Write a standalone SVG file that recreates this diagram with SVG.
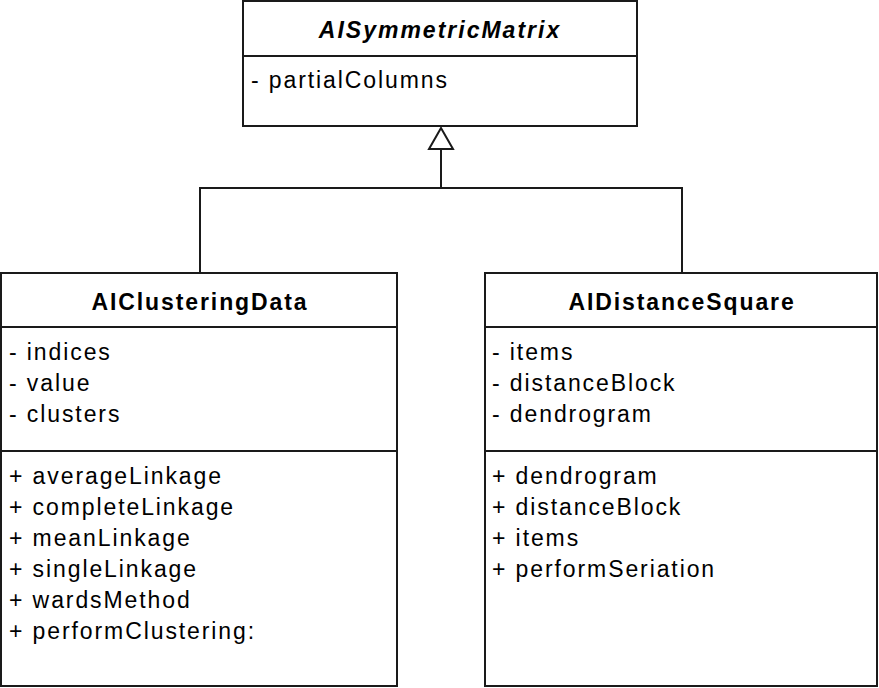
<svg xmlns="http://www.w3.org/2000/svg" width="879" height="688" viewBox="0 0 879 688">
<style>
.box{fill:#fff;stroke:#1a1a1a;stroke-width:2}
.ln{stroke:#1a1a1a;stroke-width:2;fill:none}
text{font-family:"Liberation Sans",Arial,sans-serif;font-size:23px;letter-spacing:1.9px;fill:#000}
.t{font-weight:bold;text-anchor:middle}
.i{font-style:italic;letter-spacing:2px}
</style>
<g id="connectors">
<polyline class="ln" points="200,273 200,188 682,188 682,273"/>
<line class="ln" x1="441" y1="188" x2="441" y2="149"/>
<polygon points="441,128 429,149 453,149" fill="#fff" stroke="#1a1a1a" stroke-width="2"/>
</g>
<g id="AISymmetricMatrix">
<rect class="box" x="243" y="1" width="394" height="125"/>
<line class="ln" x1="243" y1="56" x2="637" y2="56"/>
<text class="t i" x="440" y="38">AISymmetricMatrix</text>
<text x="251" y="88">- partialColumns</text>
</g>
<g id="AIClusteringData">
<rect class="box" x="1" y="273" width="396" height="413"/>
<line class="ln" x1="1" y1="327" x2="397" y2="327"/>
<line class="ln" x1="1" y1="451" x2="397" y2="451"/>
<text class="t" x="200" y="310">AIClusteringData</text>
<text x="9" y="360">- indices</text>
<text x="9" y="391">- value</text>
<text x="9" y="422">- clusters</text>
<text x="9" y="484">+ averageLinkage</text>
<text x="9" y="515">+ completeLinkage</text>
<text x="9" y="546">+ meanLinkage</text>
<text x="9" y="577">+ singleLinkage</text>
<text x="9" y="608">+ wardsMethod</text>
<text x="9" y="639">+ performClustering:</text>
</g>
<g id="AIDistanceSquare">
<rect class="box" x="485" y="273" width="392" height="413"/>
<line class="ln" x1="485" y1="327" x2="877" y2="327"/>
<line class="ln" x1="485" y1="451" x2="877" y2="451"/>
<text class="t" x="682" y="310">AIDistanceSquare</text>
<text x="492" y="360">- items</text>
<text x="492" y="391">- distanceBlock</text>
<text x="492" y="422">- dendrogram</text>
<text x="492" y="484">+ dendrogram</text>
<text x="492" y="515">+ distanceBlock</text>
<text x="492" y="546">+ items</text>
<text x="492" y="577">+ performSeriation</text>
</g>
</svg>
